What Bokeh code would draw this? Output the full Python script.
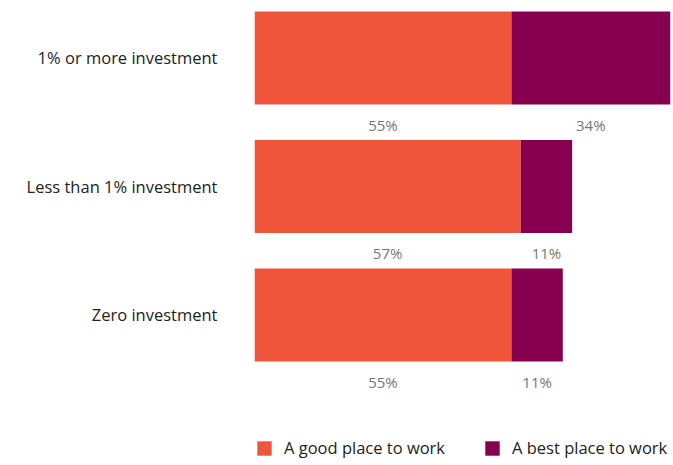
from bokeh.plotting import figure
from bokeh.models import Range1d, FixedTicker, ColumnDataSource, Legend, LegendItem
from bokeh.embed import file_html
from bokeh.resources import INLINE

categories = ["1% or more investment", "Less than 1% investment", "Zero investment"]
good = [55, 57, 55]
best = [34, 11, 11]
series_names = ["A good place to work", "A best place to work"]
colors = ["#EF553A", "#870050"]

rows = [len(categories) - 1 - i for i in range(len(categories))]  # top to bottom

src = ColumnDataSource(dict(
    y=rows,
    good_end=good,
    best_end=[g + b for g, b in zip(good, best)],
    good_mid=[g / 2 for g in good],
    best_mid=[g + b / 2 for g, b in zip(good, best)],
    good_lbl=[f"{g}%" for g in good],
    best_lbl=[f"{b}%" for b in best],
    lbl_y=[r - 0.52 for r in rows],
))

p = figure(width=673, height=465, output_backend="svg", toolbar_location=None,
           x_range=Range1d(0, 89.7), y_range=Range1d(-1.172, 2.447),
           min_border_left=254, min_border_right=0, min_border_top=0, min_border_bottom=0)

bar_h = 0.724
r_good = p.hbar(y="y", left=0, right="good_end", height=bar_h, source=src,
                fill_color=colors[0], line_color=None)
r_best = p.hbar(y="y", left="good_end", right="best_end", height=bar_h, source=src,
                fill_color=colors[1], line_color=None)

for xcol, tcol in (("good_mid", "good_lbl"), ("best_mid", "best_lbl")):
    p.text(x=xcol, y="lbl_y", text=tcol, source=src, text_align="center",
           text_baseline="middle", text_font_size="15px", text_color="#777777",
           text_font={"value": "Open Sans"})

p.xaxis.visible = False
p.xgrid.visible = False
p.ygrid.visible = False
p.outline_line_color = None

p.yaxis.ticker = FixedTicker(ticks=rows)
p.yaxis.major_label_overrides = {r: c for r, c in zip(rows, categories)}
p.yaxis.axis_line_color = None
p.yaxis.major_tick_line_color = None
p.yaxis.minor_tick_line_color = None
p.yaxis.major_tick_out = 0
p.yaxis.major_tick_in = 0
p.yaxis.major_label_standoff = 37
p.yaxis.major_label_text_font = "Open Sans"
p.yaxis.major_label_text_font_size = "16.5px"
p.yaxis.major_label_text_color = "#222222"

legend = Legend(items=[LegendItem(label=series_names[0], renderers=[r_good]),
                       LegendItem(label=series_names[1], renderers=[r_best])],
                orientation="horizontal", location=(1, 6), padding=0, margin=0,
                spacing=38, label_standoff=11, glyph_width=18, glyph_height=18,
                label_height=18, border_line_color=None, background_fill_alpha=0,
                label_text_font="Open Sans", label_text_font_size="16.5px",
                label_text_color="#222222")
p.add_layout(legend, "center")

open("out.html", "w").write(file_html(p, INLINE))
